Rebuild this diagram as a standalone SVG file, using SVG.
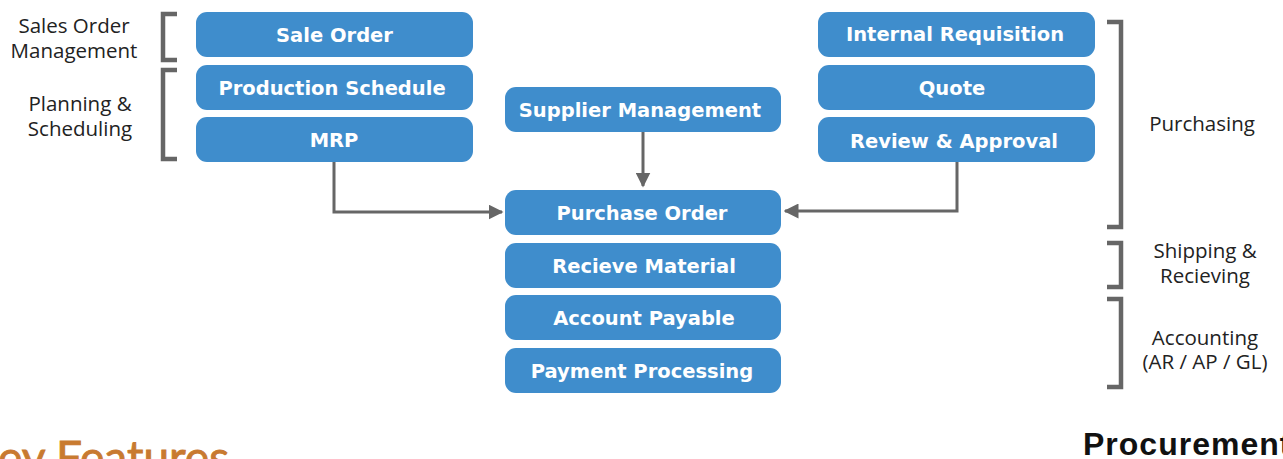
<svg xmlns="http://www.w3.org/2000/svg" width="1283" height="459" viewBox="0 0 1283 459">
<style>
.box{fill:#3f8dcc;}
.bt{font-family:"DejaVu Sans",sans-serif;font-weight:bold;font-size:19.5px;fill:#ffffff;text-anchor:middle;}
.lbl{font-family:"Open Sans",sans-serif;font-size:20.5px;fill:#222222;text-anchor:middle;}
.brk{fill:none;stroke:#666666;stroke-width:4.5;}
.con{fill:none;stroke:#666666;stroke-width:3;}
</style>
<defs>
<marker id="arr" viewBox="0 0 10 10" refX="9" refY="5" markerWidth="5" markerHeight="5" orient="auto" markerUnits="strokeWidth">
<path d="M0,0 L10,5 L0,10 z" fill="#666666"/>
</marker>
</defs>
<rect width="1283" height="459" fill="#ffffff"/>
<g id="connectors">
<path class="con" d="M334,162 V212 H502" marker-end="url(#arr)"/>
<path class="con" d="M957,162 V211 H785" marker-end="url(#arr)"/>
<path class="con" d="M643,132 V186" marker-end="url(#arr)"/>
</g>
<g id="brackets">
<path class="brk" d="M177,14 H163 V60 H177"/>
<path class="brk" d="M177,70 H163 V159 H177"/>
<path class="brk" d="M1107,22 H1121 V227 H1107"/>
<path class="brk" d="M1107,243 H1121 V287 H1107"/>
<path class="brk" d="M1107,299 H1121 V387 H1107"/>
</g>
<g id="labels">
<text class="lbl" x="74" y="33">Sales Order<tspan x="74" dy="25">Management</tspan></text>
<text class="lbl" x="80" y="111">Planning &amp;<tspan x="80" dy="25">Scheduling</tspan></text>
<text class="lbl" x="1202" y="131">Purchasing</text>
<text class="lbl" x="1205" y="258">Shipping &amp;<tspan x="1205" dy="25">Recieving</tspan></text>
<text class="lbl" x="1205" y="345">Accounting<tspan x="1205" dy="24">(AR / AP / GL)</tspan></text>
</g>
<g id="sale-order"><rect class="box" x="196" y="12" width="277" height="45" rx="11"/><text class="bt" x="334.5" y="41.5">Sale Order</text></g>
<g id="production-schedule"><rect class="box" x="196" y="65" width="277" height="45" rx="11"/><text class="bt" x="332" y="94.5">Production Schedule</text></g>
<g id="mrp"><rect class="box" x="196" y="117" width="277" height="45" rx="11"/><text class="bt" x="334" y="146.5">MRP</text></g>
<g id="supplier-management"><rect class="box" x="505" y="87" width="276" height="45" rx="11"/><text class="bt" x="640" y="116.5">Supplier Management</text></g>
<g id="purchase-order"><rect class="box" x="505" y="190" width="276" height="45" rx="11"/><text class="bt" x="642" y="219.5">Purchase Order</text></g>
<g id="recieve-material"><rect class="box" x="505" y="243" width="276" height="45" rx="11"/><text class="bt" x="644" y="272.5">Recieve Material</text></g>
<g id="account-payable"><rect class="box" x="505" y="295" width="276" height="45" rx="11"/><text class="bt" x="644" y="324.5">Account Payable</text></g>
<g id="payment-processing"><rect class="box" x="505" y="348" width="276" height="45" rx="11"/><text class="bt" x="642" y="377.5">Payment Processing</text></g>
<g id="internal-requisition"><rect class="box" x="818" y="12" width="277" height="45" rx="11"/><text class="bt" x="955" y="41">Internal Requisition</text></g>
<g id="quote"><rect class="box" x="818" y="65" width="277" height="45" rx="11"/><text class="bt" x="952" y="94.5">Quote</text></g>
<g id="review-approval"><rect class="box" x="818" y="117" width="277" height="45" rx="11"/><text class="bt" x="954" y="148">Review &amp; Approval</text></g>
<text x="-2" y="474" font-family="Lato, sans-serif" font-size="46" fill="#c87a30" stroke="#c87a30" stroke-width="0.9">ey Features</text>
<text x="1083" y="455" font-family="Liberation Sans, Arial, sans-serif" font-weight="bold" font-size="32" letter-spacing="1" fill="#111111">Procurement</text>
</svg>
